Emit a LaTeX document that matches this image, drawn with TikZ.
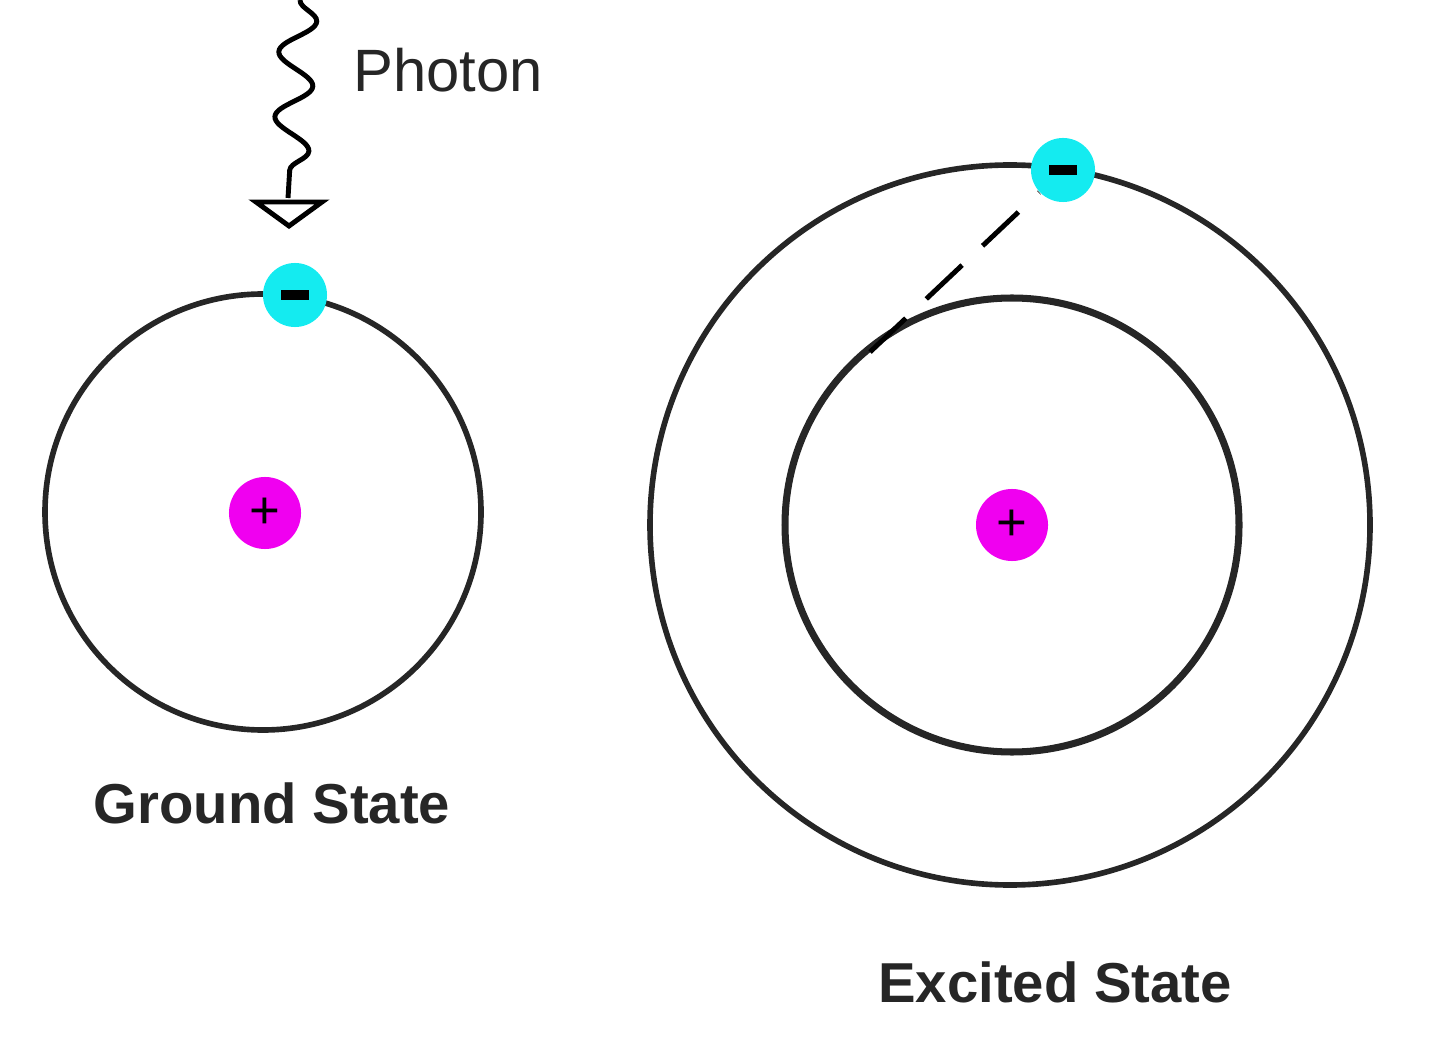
\documentclass[tikz,border=0pt]{standalone}
\usepackage{fontspec}
\setmainfont{Liberation Sans}
\usetikzlibrary{decorations.pathmorphing,calc}
\definecolor{nuc}{RGB}{240,0,240}
\definecolor{ele}{RGB}{20,235,240}
\begin{document}
\begin{tikzpicture}[x=0.01cm,y=-0.01cm,
  orbit/.style={draw=black!85,line width=1.6pt},
  nucleus/.style={circle,fill=nuc,minimum size=0.72cm,inner sep=0pt,font=\fontsize{15}{15}\selectfont},
  electron/.style={circle,fill=ele,minimum size=0.64cm,inner sep=0pt},
  lbl/.style={font=\bfseries\fontsize{16}{20}\selectfont,text=black!85}]
\useasboundingbox (0,0) rectangle (1440,1037);
% ground
\draw[orbit] (263,512) circle (218);
\node[nucleus] (n1) at (265,513) {+};
\node[electron] (e1) at (295,295) {};
\draw[line width=3pt] ($(e1)+(-14,0)$) -- ($(e1)+(14,0)$);
\node[lbl] (g) at (272,803) {Ground State};
% photon
\coordinate (p0) at (300,0);
\coordinate (p1) at (288,198);
\draw[line width=1.4pt,decorate,decoration={snake,segment length=0.65cm,amplitude=0.18cm}] (p0) -- (p1);
\draw[line width=1.4pt,fill=white] (256,202) -- (322,202) -- (289,226) -- cycle;
\node[lbl,font=\fontsize{17}{20}\selectfont] (ph) at (448,70) {Photon};
% excited
\draw[orbit] (1010,525) circle (360);
\draw[orbit,line width=2pt] (1012,525) circle (227);
\node[nucleus] (n2) at (1012,525) {+};
\node[electron] (e2) at (1063,170) {};
\draw[line width=3pt] ($(e2)+(-14,0)$) -- ($(e2)+(14,0)$);
\coordinate (d0) at (870,352);
\draw[line width=1.4pt,dash pattern=on 14pt off 8pt] (d0) -- (e2);
\node[lbl] (x) at (1055,982) {Excited State};
\end{tikzpicture}
\end{document}
